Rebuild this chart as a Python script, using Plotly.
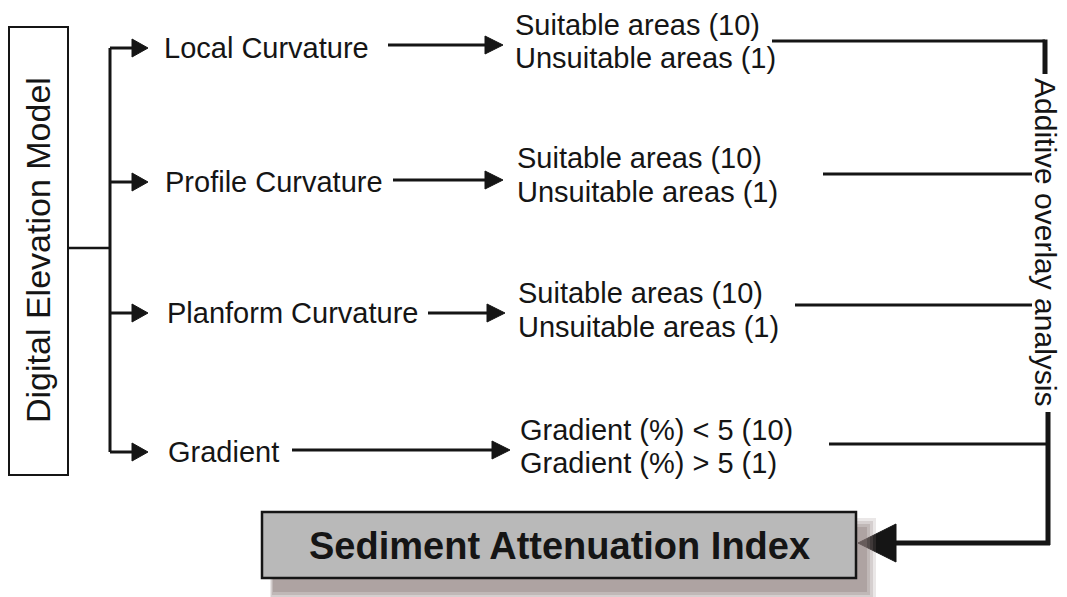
import plotly.graph_objects as go

# ---- content ----
source_label = "Digital Elevation Model"
factor_labels = ["Local Curvature", "Profile Curvature", "Planform Curvature", "Gradient"]
class_high = ["Suitable areas (10)", "Suitable areas (10)", "Suitable areas (10)", "Gradient (%) < 5 (10)"]
class_low = ["Unsuitable areas (1)", "Unsuitable areas (1)", "Unsuitable areas (1)", "Gradient (%) > 5 (1)"]
overlay_label = "Additive overlay analysis"
result_label = "Sediment Attenuation Index"

# ---- layout geometry (pixel space, y down) ----
W, H = 1067, 597
factor_y = [48, 182, 313, 452]
factor_text_x = [162, 163, 165, 166]
arrow2_start = [388, 393, 428, 292]
arrow2_tip = [503, 503, 505, 510]
arrow2_y = [45, 180, 313, 450]
class_x = [513, 515, 516, 518]
class_high_y = [25, 158, 293, 430]
class_low_y = [58, 192, 327, 463]
link_start = [772, 823, 795, 829]
link_end = [1045, 1032, 1032, 1048]
link_y = [41, 174, 305, 444]

INK = "#151515"
FONT = "Liberation Sans, Arial, sans-serif"

fig = go.Figure()
shapes = []
ann = []


def line(x0, y0, x1, y1, w=2):
    shapes.append(dict(type="line", xref="x", yref="y", x0=x0, y0=y0, x1=x1, y1=y1,
                       line=dict(color=INK, width=w)))


def head(tipx, y, length, half):
    shapes.append(dict(type="path", xref="x", yref="y",
                       path=f"M {tipx},{y} L {tipx - length},{y - half} L {tipx - length},{y + half} Z",
                       fillcolor=INK, line=dict(color=INK, width=1)))


def head_left(tipx, y, length, half):
    shapes.append(dict(type="path", xref="x", yref="y",
                       path=f"M {tipx},{y} L {tipx + length},{y - half} L {tipx + length},{y + half} Z",
                       fillcolor=INK, line=dict(color=INK, width=1)))


def text(x, y, s, size, xanchor="left", angle=0, bold=False):
    ann.append(dict(x=x, y=y, xref="x", yref="y", text=(f"<b>{s}</b>" if bold else s),
                    showarrow=False, xanchor=xanchor, yanchor="middle", textangle=angle,
                    font=dict(family=FONT, size=size, color=INK)))


# DEM box
shapes.append(dict(type="rect", xref="x", yref="y", x0=9, y0=27, x1=68, y1=475,
                   fillcolor="white", line=dict(color=INK, width=2)))
text(38, 250, source_label, 34, xanchor="center", angle=-90)

# trunk
line(68, 248, 110, 248, 2.5)
line(110, factor_y[0], 110, factor_y[-1], 3)

for i, lab in enumerate(factor_labels):
    y = factor_y[i]
    line(110, y, 134, y, 3)
    head(148, y, 16, 9)
    text(factor_text_x[i], y, lab, 29)
    # second arrow
    ay = arrow2_y[i]
    line(arrow2_start[i], ay, arrow2_tip[i] - 14, ay, 3)
    head(arrow2_tip[i], ay, 18, 9)
    text(class_x[i], class_high_y[i], class_high[i], 29)
    text(class_x[i], class_low_y[i], class_low[i], 29)
    # link to overlay
    line(link_start[i], link_y[i], link_end[i], link_y[i], 3)

# overlay bracket
line(1045, 39.5, 1045, 74, 5)
line(1048, 412, 1048, 545, 5)
line(1050, 543, 890, 543, 5)
head_left(858, 543, 38, 19)
text(1046, 242, overlay_label, 30, xanchor="center", angle=90)

# result box with soft shadow
for k, op in enumerate([0.18, 0.22, 0.28, 0.35]):
    d = 4 - k
    shapes.append(dict(type="rect", xref="x", yref="y", x0=270 + k, y0=522 - d + k * 2,
                       x1=872 - k * 2 + d, y1=597 - k * 2 + d,
                       fillcolor="#8c7c7a", opacity=op, line=dict(width=0)))
shapes.append(dict(type="rect", xref="x", yref="y", x0=262, y0=512, x1=856, y1=578,
                   fillcolor="#b9b9b9", line=dict(color=INK, width=2.5)))
text(559, 546, result_label, 38, xanchor="center", bold=True)

fig.update_layout(
    width=W, height=H,
    margin=dict(l=0, r=0, t=0, b=0),
    paper_bgcolor="white", plot_bgcolor="white",
    xaxis=dict(range=[0, W], visible=False, fixedrange=True),
    yaxis=dict(range=[H, 0], visible=False, fixedrange=True),
    shapes=shapes, annotations=ann, showlegend=False,
)
fig.write_html("out.html", config={"displayModeBar": False},
               post_script="document.body.style.margin='0';document.body.style.overflow='hidden';")
